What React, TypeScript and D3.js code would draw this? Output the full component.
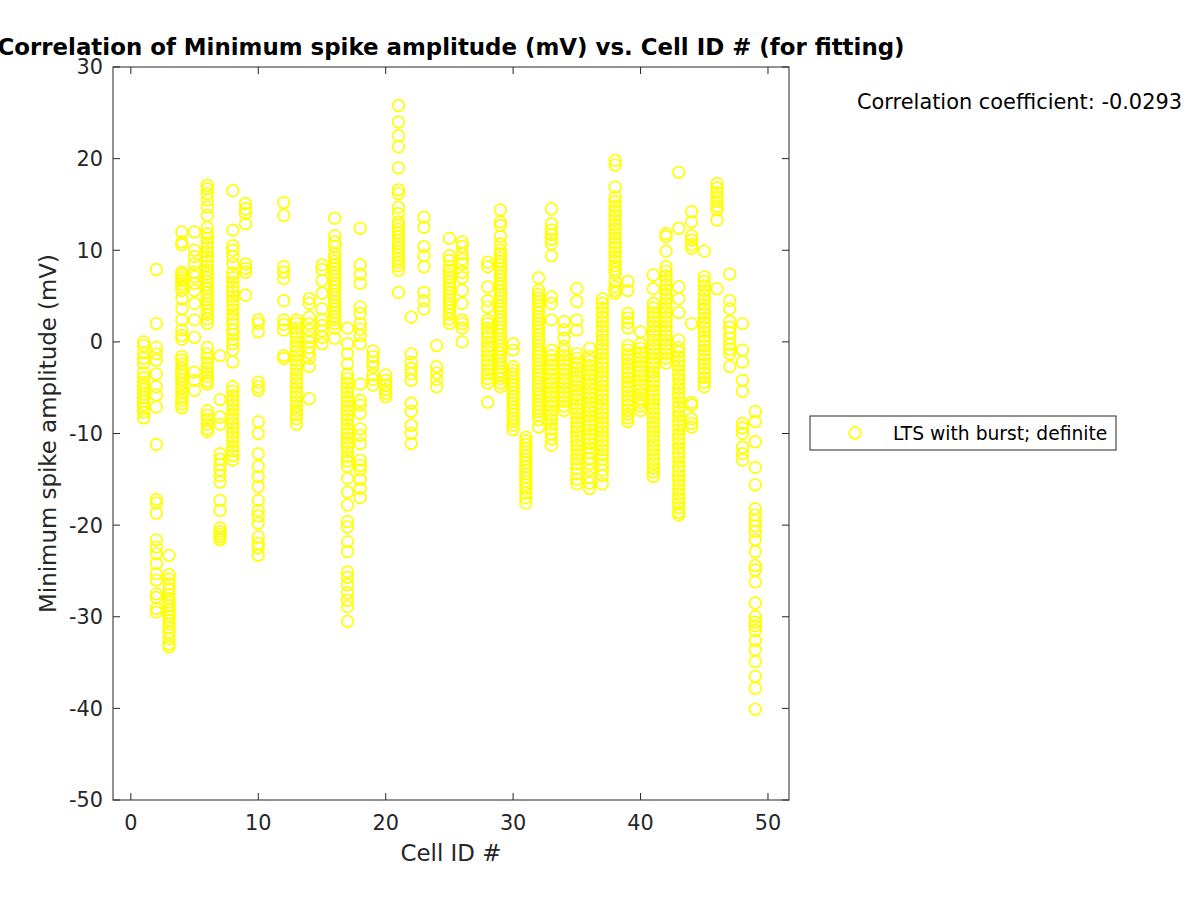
import React from "react";
import * as d3 from "d3";

const titleText = "Correlation of Minimum spike amplitude (mV) vs. Cell ID # (for fitting)";
const xLabel = "Cell ID #";
const yLabel = "Minimum spike amplitude (mV)";
const corrText = "Correlation coefficient: -0.0293";
const legendLabel = "LTS with burst; definite";

const xTicks = [0, 10, 20, 30, 40, 50];
const yTicks = [30, 20, 10, 0, -10, -20, -30, -40, -50];

const cellIds = [1, 2, 3, 4, 5, 6, 7, 8, 9, 10, 12, 13, 14, 15, 16, 17, 18, 19, 20, 21, 22, 23, 24, 25, 26, 28, 29, 30, 31, 32, 33, 34, 35, 36, 37, 38, 39, 40, 41, 42, 43, 44, 45, 46, 47, 48, 49];

const amplitudes: number[][] = [
  [0, -0.4, -1.2, -1.8, -2.3, -3.4, -3.9, -4.4, -4.8, -5.2, -5.7, -6.1, -6.5, -6.9, -7.3, -7.7, -8.3],
  [7.9, 2.0, -0.6, -1.3, -2.0, -3.5, -4.9, -5.8, -7.1, -11.2, -17.2, -17.6, -18.7, -21.6, -22.4, -23.1, -24.2, -25.3, -26.0, -27.5, -27.9, -29.1, -29.5],
  [-23.3, -25.4, -25.9, -26.4, -27.0, -27.6, -28.0, -28.4, -28.8, -29.2, -29.6, -30.0, -30.4, -30.8, -31.2, -31.7, -32.4, -33.0, -33.3],
  [12.0, 10.9, 10.6, 7.6, 7.3, 7.0, 6.7, 6.3, 6.0, 5.6, 4.7, 3.6, 2.4, 1.3, 0.7, 0.3, -1.6, -2.0, -2.4, -2.9, -3.3, -3.7, -4.1, -4.6, -5.0, -5.5, -6.0, -6.4, -6.8, -7.2],
  [12.0, 10.0, 9.3, 8.5, 7.6, 7.1, 6.4, 5.6, 4.2, 2.4, 0.5, -3.3, -4.2, -5.3],
  [17.1, 16.7, 16.2, 15.5, 14.7, 13.8, 12.5, 11.8, 11.3, 10.8, 10.3, 9.8, 9.3, 8.8, 8.3, 7.8, 7.4, 7.0, 6.6, 6.2, 5.8, 5.4, 5.0, 4.6, 4.2, 3.8, 3.4, 3.0, 2.5, 2.0, -0.6, -1.3, -1.8, -2.3, -2.8, -3.3, -3.8, -4.3, -4.6, -7.5, -8.0, -8.5, -9.0, -9.5, -9.8],
  [-1.5, -6.3, -8.2, -9.0, -12.2, -12.8, -13.4, -14.0, -14.6, -15.3, -17.3, -18.4, -20.3, -20.7, -21.0, -21.3, -21.6],
  [16.5, 12.2, 10.5, 10.0, 9.3, 8.5, 7.5, 7.0, 6.5, 6.0, 5.5, 5.0, 4.5, 4.0, 3.5, 3.0, 2.5, 2.0, 1.3, 0.8, 0.3, -0.2, -0.9, -2.2, -4.9, -5.4, -5.9, -6.4, -6.9, -7.4, -7.9, -8.4, -8.9, -9.4, -9.9, -10.4, -10.9, -11.4, -11.9, -12.4, -12.9],
  [15.1, 14.5, 14.0, 12.9, 8.5, 8.0, 7.6, 5.1],
  [2.4, 2.0, 1.1, -4.4, -4.9, -5.3, -8.7, -10.0, -12.2, -13.6, -14.7, -15.8, -17.3, -18.4, -19.0, -19.8, -21.3, -22.0, -22.5, -23.3],
  [15.2, 13.8, 8.2, 7.6, 6.9, 4.5, 2.4, 1.9, 1.3, -1.5, -1.8],
  [2.4, 2.0, 1.5, 1.0, 0.5, 0.0, -0.5, -1.0, -1.5, -2.0, -2.5, -3.0, -3.5, -4.0, -4.5, -5.0, -5.5, -6.0, -6.5, -7.0, -7.5, -7.9, -8.4, -9.0],
  [4.7, 4.2, 2.7, 2.0, 1.3, 0.5, 0.0, -0.6, -1.2, -1.8, -2.7, -6.2],
  [8.4, 7.9, 6.7, 5.3, 3.6, 2.4, 1.8, 1.2, 0.5, -0.2],
  [13.5, 11.6, 10.9, 10.4, 9.6, 9.2, 8.8, 8.4, 8.0, 7.6, 7.2, 6.8, 6.4, 6.0, 5.6, 5.2, 4.8, 4.4, 4.0, 3.6, 3.2, 2.8, 2.4, 2.0, 1.5, 0.4],
  [1.5, -0.2, -1.3, -2.4, -3.5, -4.0, -4.5, -5.0, -5.5, -6.0, -6.5, -7.0, -7.5, -8.0, -8.5, -9.0, -9.5, -10.0, -10.5, -11.0, -11.5, -12.0, -12.5, -13.0, -13.6, -14.9, -16.4, -17.8, -19.6, -20.2, -21.8, -22.9, -25.1, -25.7, -26.5, -27.4, -28.2, -28.9, -30.5],
  [12.4, 8.4, 7.4, 6.4, 3.8, 3.1, 2.0, 1.4, 0.7, -0.2, -4.6, -6.4, -6.9, -7.8, -9.5, -10.2, -11.1, -12.9, -13.5, -14.0, -15.0, -16.0, -17.0],
  [-1.0, -1.6, -2.2, -2.7, -3.6, -4.1, -4.7],
  [-3.6, -4.2, -4.7, -5.2, -5.6, -6.0],
  [25.8, 24.0, 22.5, 21.3, 19.0, 16.6, 16.2, 14.7, 14.0, 13.1, 12.7, 12.3, 11.9, 11.5, 11.1, 10.7, 10.3, 9.9, 9.5, 9.1, 8.7, 8.3, 7.8, 5.4],
  [2.7, -1.3, -2.2, -2.9, -3.5, -4.2, -6.7, -7.6, -9.1, -10.0, -11.1],
  [13.6, 12.5, 10.4, 9.4, 8.2, 5.4, 4.5, 3.6],
  [-0.4, -2.7, -3.4, -4.1, -4.9],
  [11.3, 9.4, 8.9, 8.2, 7.8, 7.4, 7.0, 6.6, 6.2, 5.8, 5.4, 5.0, 4.6, 4.2, 3.8, 3.4, 3.0, 2.5, 2.0],
  [10.9, 10.4, 9.6, 9.0, 8.5, 7.6, 7.0, 5.6, 4.2, 2.4, 2.0, 1.5, 0.0],
  [8.7, 8.2, 6.0, 4.5, 3.8, 2.4, 2.0, 1.5, 1.0, 0.5, 0.0, -0.5, -1.0, -1.5, -2.0, -2.5, -3.0, -3.5, -4.0, -4.5, -6.6],
  [14.4, 13.1, 12.7, 11.5, 10.7, 10.0, 9.6, 9.2, 8.8, 8.4, 8.0, 7.6, 7.2, 6.8, 6.4, 6.0, 5.6, 5.2, 4.8, 4.4, 4.0, 3.6, 3.2, 2.8, 2.4, 2.0, 1.6, 1.2, 0.8, 0.4, 0.0, -0.4, -0.8, -1.2, -1.6, -2.0, -2.4, -2.8, -3.2, -3.6, -4.0, -4.5, -4.9],
  [-0.2, -0.9, -2.7, -3.1, -3.5, -3.9, -4.3, -4.7, -5.1, -5.5, -5.9, -6.3, -6.7, -7.1, -7.5, -7.9, -8.3, -8.7, -9.1, -9.6],
  [-10.4, -10.8, -11.2, -11.6, -12.0, -12.4, -12.8, -13.2, -13.6, -14.0, -14.4, -14.8, -15.2, -15.6, -16.0, -16.5, -17.0, -17.6],
  [7.0, 5.6, 5.2, 4.8, 4.4, 4.0, 3.6, 3.2, 2.8, 2.4, 2.0, 1.6, 1.2, 0.8, 0.4, 0.0, -0.4, -0.8, -1.2, -1.6, -2.0, -2.4, -2.8, -3.2, -3.6, -4.0, -4.4, -4.8, -5.2, -5.6, -6.0, -6.4, -6.8, -7.2, -7.6, -8.0, -8.5, -9.3],
  [14.5, 12.9, 12.2, 11.7, 11.2, 10.7, 9.4, 4.9, 4.2, 2.4, -0.9, -1.5, -2.0, -2.5, -3.0, -3.5, -4.0, -4.5, -5.0, -5.5, -6.0, -6.5, -7.0, -7.5, -8.0, -8.5, -9.0, -9.5, -10.0, -10.6, -11.3],
  [2.2, 1.3, 0.4, -0.5, -1.0, -1.5, -2.0, -2.5, -3.0, -3.5, -4.0, -4.5, -5.0, -5.5, -6.0, -6.5, -7.0, -7.5],
  [5.8, 4.4, 2.4, 1.3, -1.3, -1.8, -2.3, -2.8, -3.3, -3.8, -4.3, -4.8, -5.3, -5.8, -6.3, -6.8, -7.3, -7.8, -8.3, -8.8, -9.3, -9.8, -10.3, -10.8, -11.3, -11.8, -12.3, -12.8, -13.3, -13.8, -14.4, -15.0, -15.5],
  [-0.7, -1.6, -2.1, -2.6, -3.1, -3.6, -4.1, -4.6, -5.1, -5.6, -6.1, -6.6, -7.1, -7.6, -8.1, -8.6, -9.1, -9.6, -10.1, -10.6, -11.1, -11.6, -12.1, -12.7, -13.3, -14.0, -14.8, -15.4, -16.0],
  [4.7, 4.2, 3.7, 3.2, 2.7, 2.2, 1.7, 1.2, 0.7, 0.2, -0.3, -0.8, -1.3, -1.8, -2.3, -2.8, -3.3, -3.8, -4.3, -4.8, -5.3, -5.8, -6.3, -6.8, -7.3, -7.8, -8.3, -8.8, -9.3, -9.8, -10.3, -10.8, -11.3, -11.8, -12.3, -12.8, -13.4, -14.0, -14.6, -15.5],
  [19.8, 19.3, 16.9, 15.8, 15.3, 14.8, 14.3, 13.8, 13.3, 12.8, 12.3, 11.8, 11.3, 10.8, 10.3, 9.8, 9.3, 8.8, 8.3, 7.9, 7.5, 6.6, 6.0, 5.6, 5.3],
  [6.6, 5.6, 3.1, 2.6, 2.1, 1.5, -0.4, -0.9, -1.4, -1.9, -2.4, -2.9, -3.4, -3.9, -4.4, -4.9, -5.4, -5.9, -6.4, -6.9, -7.4, -7.9, -8.3, -8.7],
  [1.1, -0.2, -0.7, -1.2, -1.7, -2.2, -2.7, -3.2, -3.7, -4.2, -4.7, -5.2, -5.7, -6.2, -6.6, -7.0, -7.5],
  [7.3, 5.8, 4.2, 3.7, 3.2, 2.7, 2.2, 1.7, 1.2, 0.7, 0.2, -0.3, -0.8, -1.3, -1.8, -2.3, -2.8, -3.3, -3.8, -4.3, -4.8, -5.3, -5.8, -6.3, -6.8, -7.3, -7.8, -8.3, -8.8, -9.3, -9.8, -10.3, -10.8, -11.3, -11.8, -12.3, -12.8, -13.3, -13.8, -14.2, -14.7],
  [11.8, 11.5, 9.9, 8.2, 7.7, 7.2, 6.7, 6.2, 5.7, 5.2, 4.7, 4.2, 3.7, 3.2, 2.7, 2.2, 1.7, 1.2, 0.7, 0.2, -0.3, -0.8, -1.3, -1.8, -2.3],
  [18.5, 12.4, 6.0, 4.7, 3.2, 0.2, -0.6, -1.1, -1.6, -2.1, -2.6, -3.1, -3.6, -4.1, -4.6, -5.1, -5.6, -6.1, -6.6, -7.1, -7.6, -8.1, -8.6, -9.1, -9.6, -10.1, -10.6, -11.1, -11.6, -12.1, -12.6, -13.1, -13.6, -14.1, -14.6, -15.1, -15.6, -16.1, -16.6, -17.1, -17.6, -18.1, -18.6, -18.9],
  [14.2, 13.1, 11.6, 11.1, 10.6, 10.2, 2.0, -6.6, -6.9, -8.4, -8.9, -9.3],
  [9.9, 7.1, 6.6, 6.1, 5.6, 5.1, 4.6, 4.1, 3.6, 3.1, 2.6, 2.1, 1.6, 1.1, 0.6, 0.1, -0.4, -0.9, -1.4, -1.9, -2.4, -2.9, -3.4, -3.9, -4.4, -4.9],
  [17.3, 16.8, 16.3, 15.8, 15.3, 14.8, 14.4, 13.3, 5.8],
  [7.4, 4.5, 3.6, 2.2, 1.6, 1.0, 0.4, -0.3, -0.8, -1.3, -2.7],
  [2.0, -0.9, -2.2, -4.2, -5.4, -8.9, -9.4, -10.0, -11.5, -12.2, -12.9],
  [-7.6, -8.7, -10.9, -13.7, -15.6, -18.2, -18.9, -19.5, -20.1, -20.7, -21.6, -22.9, -24.4, -24.9, -26.2, -28.5, -30.0, -30.6, -31.0, -31.5, -32.6, -33.6, -34.9, -36.5, -37.8, -40.1],
];

const W = 1200;
const H = 900;
const plotLeft = 113;
const plotRight = 789;
const plotTop = 67;
const plotBottom = 800;
const axisColor = "#262626";
const markerColor = "#ffff00";
const font = "'DejaVu Sans', sans-serif";
const tickLen = 7;

export default function App() {
  const x = d3.scaleLinear().domain([-1.4, 51.65]).range([plotLeft, plotRight]);
  const y = d3.scaleLinear().domain([-50, 30]).range([plotBottom, plotTop]);

  const points: { id: number; v: number; k: string }[] = [];
  cellIds.forEach((id, i) => {
    amplitudes[i].forEach((v, j) => points.push({ id, v, k: `${id}-${j}` }));
  });

  return (
    <svg
      width={W}
      height={H}
      style={{ position: "absolute", left: 0, top: 0, background: "#fff" }}
      fontFamily={font}
    >
      <rect x={0} y={0} width={W} height={H} fill="#fff" />
      <g>
        {points.map((p) => (
          <circle
            key={p.k}
            cx={x(p.id)}
            cy={y(p.v)}
            r={5.8}
            fill="none"
            stroke={markerColor}
            strokeWidth={1.7}
          />
        ))}
      </g>
      <rect
        x={plotLeft}
        y={plotTop}
        width={plotRight - plotLeft}
        height={plotBottom - plotTop}
        fill="none"
        stroke={axisColor}
        strokeWidth={1}
      />
      {xTicks.map((t) => (
        <g key={`xt${t}`}>
          <line x1={x(t)} x2={x(t)} y1={plotBottom} y2={plotBottom - tickLen} stroke={axisColor} />
          <line x1={x(t)} x2={x(t)} y1={plotTop} y2={plotTop + tickLen} stroke={axisColor} />
          <text x={x(t)} y={830} textAnchor="middle" fontSize={20.8} fill={axisColor}>
            {t}
          </text>
        </g>
      ))}
      {yTicks.map((t) => (
        <g key={`yt${t}`}>
          <line x1={plotLeft} x2={plotLeft + tickLen} y1={y(t)} y2={y(t)} stroke={axisColor} />
          <line x1={plotRight} x2={plotRight - tickLen} y1={y(t)} y2={y(t)} stroke={axisColor} />
          <text x={103} y={y(t)} dy="0.36em" textAnchor="end" fontSize={20.8} fill={axisColor}>
            {t}
          </text>
        </g>
      ))}
      <text x={(plotLeft + plotRight) / 2} y={861} textAnchor="middle" fontSize={22.9} fill={axisColor}>
        {xLabel}
      </text>
      <text
        transform={`translate(56, ${(plotTop + plotBottom) / 2}) rotate(-90)`}
        textAnchor="middle"
        fontSize={22.9}
        fill={axisColor}
      >
        {yLabel}
      </text>
      <text
        x={(plotLeft + plotRight) / 2}
        y={55}
        textAnchor="middle"
        fontSize={22.9}
        fontWeight="bold"
        fill="#000"
      >
        {titleText}
      </text>
      <text x={857} y={109} fontSize={20.9} fill="#000">
        {corrText}
      </text>
      <rect x={810} y={416} width={306} height={34} fill="#fff" stroke={axisColor} strokeWidth={1} />
      <circle cx={855} cy={433} r={5.8} fill="none" stroke={markerColor} strokeWidth={1.7} />
      <text x={893} y={433} dy="0.36em" fontSize={18.7} fill="#000">
        {legendLabel}
      </text>
    </svg>
  );
}
